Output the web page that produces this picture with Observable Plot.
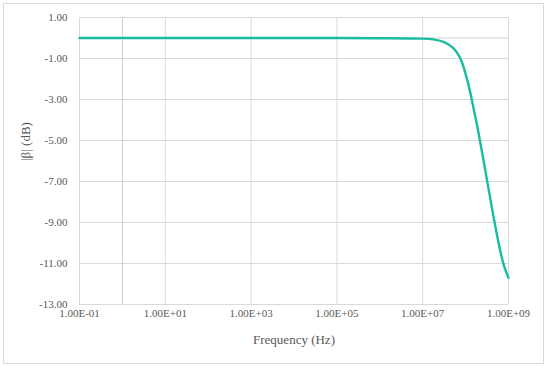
<!DOCTYPE html>
<html>
<head>
<meta charset="utf-8">
<script src="https://cdn.jsdelivr.net/npm/d3@7"></script>
<script src="https://cdn.jsdelivr.net/npm/@observablehq/plot@0.6"></script>
<style>
  html, body { margin: 0; padding: 0; background: #fff; }
  #wrap { position: relative; width: 550px; height: 368px; overflow: hidden; }
  #border { position: absolute; left: 3px; top: 3px; width: 539px; height: 359px; border: 1px solid #d9d9d9; box-sizing: content-box; pointer-events: none; }
  #chart { position: absolute; left: 0; top: 0; }
</style>
</head>
<body>
<div id="wrap"><div id="chart"></div><div id="border"></div></div>
<script>
// Frequency (Hz)
const frequency = [1e-1, 1e0, 1e1, 1e2, 1e3, 1e4, 1e5, 1e6, 1e7, 1.78e7, 3.16e7, 3.72e7, 4.79e7, 5.75e7,
  7.94e7, 1e8, 1.26e8, 1.58e8, 2e8, 2.51e8, 3.16e8, 3.98e8, 5.01e8, 6.31e8, 7.94e8, 1e9];
// |beta| (dB)
const betaDb = [0, 0, 0, 0, 0, 0, 0, -0.01, -0.03, -0.07, -0.2, -0.28, -0.43, -0.6,
  -1.1, -1.75, -2.58, -3.56, -4.62, -5.76, -6.94, -8.12, -9.27, -10.31, -11.14, -11.7];

const xTicks = [1e-1, 1e1, 1e3, 1e5, 1e7, 1e9];
const yTicks = [1, -1, -3, -5, -7, -9, -11, -13];
const xCross = 1;   // vertical axis crosses at 1 Hz
const yCross = 0;   // horizontal axis crosses at 0 dB

const data = frequency.map((f, i) => ({f, v: betaDb[i]}));

function fmtE(d) {
  const e = Math.round(Math.log10(d));
  const m = d / Math.pow(10, e);
  const sign = e < 0 ? "-" : "+";
  return m.toFixed(2) + "E" + sign + String(Math.abs(e)).padStart(2, "0");
}

const font = "'Liberation Serif', 'DejaVu Serif', serif";
const grid = "#d9d9d9";
const txt = "#595959";

const chart = Plot.plot({
  width: 550,
  height: 368,
  marginLeft: 79,
  marginRight: 42,
  marginTop: 17,
  marginBottom: 64,
  style: {fontFamily: font, fontSize: "11px", color: txt, background: "transparent"},
  x: {type: "log", domain: [1e-1, 1e9]},
  y: {domain: [-13, 1]},
  marks: [
    Plot.ruleX(xTicks, {stroke: grid, strokeWidth: 1, strokeOpacity: 1}),
    Plot.ruleY(yTicks, {stroke: grid, strokeWidth: 1, strokeOpacity: 1}),
    Plot.ruleX([xCross], {stroke: "#d0d0d0", strokeWidth: 1}),
    Plot.ruleY([yCross], {stroke: "#d0d0d0", strokeWidth: 1}),
    Plot.axisX({ticks: xTicks, tickSize: 0, tickPadding: 5, tickFormat: fmtE, label: null, fill: txt, fontSize: 11}),
    Plot.axisY({ticks: yTicks, tickSize: 0, tickPadding: 12, tickFormat: d => d.toFixed(2), label: null, fill: txt, fontSize: 11}),
    Plot.line(data, {x: "f", y: "v", stroke: "#17BE9E", strokeWidth: 2.4, curve: "monotone-x"}),
    Plot.text(["Frequency (Hz)"], {frameAnchor: "bottom", dy: 39, fill: txt, fontSize: 13, text: d => d}),
    Plot.text(["|β| (dB)"], {frameAnchor: "left", dx: -54, rotate: -90, fill: txt, fontSize: 13, text: d => d})
  ]
});
document.getElementById("chart").appendChild(chart);
</script>
</body>
</html>
